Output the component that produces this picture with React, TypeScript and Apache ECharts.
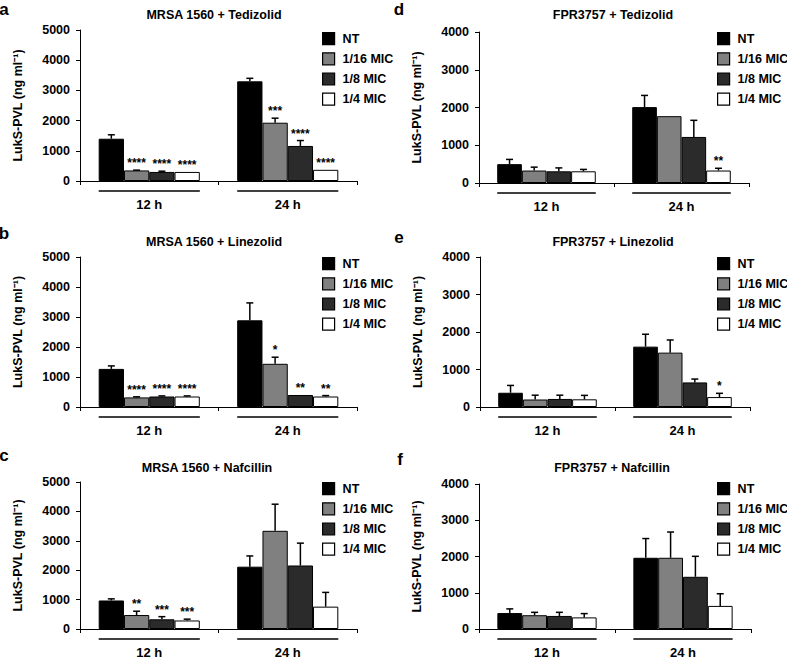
import React, { useEffect, useRef } from "react";
import * as echarts from "echarts";

const categories = ["12 h", "24 h"];
const groups = ["NT", "1/16 MIC", "1/8 MIC", "1/4 MIC"];
const titles = [
  "MRSA 1560 + Tedizolid",
  "MRSA 1560 + Linezolid",
  "MRSA 1560 + Nafcillin",
  "FPR3757 + Tedizolid",
  "FPR3757 + Linezolid",
  "FPR3757 + Nafcillin",
];
const panelLetters = ["a", "b", "c", "d", "e", "f"];
const yMax = [5000, 5000, 5000, 4000, 4000, 4000];
const yName = "LukS-PVL (ng ml⁻¹)";

// means per group [12 h, 24 h]
const aMean = [[1400, 3300], [350, 1930], [300, 1160], [300, 370]];
const aErr = [[130, 100], [10, 150], [25, 180], [0, 0]];
const aStars = [["", ""], ["****", "***"], ["****", "****"], ["****", "****"]];

const bMean = [[1270, 2890], [320, 1440], [350, 400], [350, 350]];
const bErr = [[100, 580], [20, 220], [20, 0], [20, 30]];
const bStars = [["", ""], ["****", "*"], ["****", "**"], ["****", "**"]];

const cMean = [[970, 2120], [475, 3340], [330, 2160], [290, 760]];
const cErr = [[55, 365], [130, 905], [90, 760], [45, 485]];
const cStars = [["", ""], ["**", ""], ["***", ""], ["***", ""]];

const dMean = [[500, 2010], [330, 1770], [310, 1220], [310, 330]];
const dErr = [[125, 310], [90, 0], [90, 440], [50, 60]];
const dStars = [["", ""], ["", ""], ["", ""], ["", "**"]];

const eMean = [[380, 1610], [200, 1450], [215, 655], [205, 265]];
const eErr = [[195, 330], [115, 337], [100, 90], [105, 100]];
const eStars = [["", ""], ["", ""], ["", ""], ["", "*"]];

const fMean = [[440, 1965], [380, 1965], [360, 1440], [320, 637]];
const fErr = [[115, 530], [80, 710], [100, 565], [105, 335]];
const fStars = [["", ""], ["", ""], ["", ""], ["", ""]];

const means = [aMean, bMean, cMean, dMean, eMean, fMean];
const errs = [aErr, bErr, cErr, dErr, eErr, fErr];
const stars = [aStars, bStars, cStars, dStars, eStars, fStars];

const FONT = '"Liberation Sans", Arial, sans-serif';
const colors = ["#000000", "#808080", "#2b2b2b", "#ffffff"];
const GAP = 0.27;

const layout = [
  { left: 80, top: 30, width: 277, height: 151, lx: 317, ly: 27, tx: 214, ty: 15, px: 4, py: 9 },
  { left: 80, top: 257, width: 277, height: 150, lx: 317, ly: 252, tx: 214, ty: 242, px: 4, py: 233 },
  { left: 80, top: 482, width: 277, height: 151, lx: 317, ly: 477, tx: 207, ty: 468, px: 4, py: 455 },
  { left: 479, top: 32, width: 270, height: 151, lx: 712, ly: 27, tx: 613, ty: 15, px: 399, py: 9 },
  { left: 480, top: 257, width: 270, height: 150, lx: 712, ly: 252, tx: 613, ty: 242, px: 399, py: 237 },
  { left: 479, top: 484, width: 272, height: 151, lx: 712, ly: 477, tx: 612, ty: 468, px: 400, py: 459 },
];

function buildOption() {
  const grid: any[] = [];
  const xAxis: any[] = [];
  const yAxis: any[] = [];
  const legend: any[] = [];
  const series: any[] = [];
  const graphic: any[] = [];

  layout.forEach((L, p) => {
    grid.push({ left: L.left, top: L.top, width: L.width, height: L.height });
    xAxis.push({
      type: "category",
      gridIndex: p,
      data: categories,
      axisLine: { lineStyle: { color: "#000", width: 1 } },
      axisTick: { show: true, length: 4, lineStyle: { color: "#000" } },
      axisLabel: { color: "#000", fontWeight: "bold", fontSize: 13, fontFamily: FONT, margin: 17 },
    });
    yAxis.push({
      type: "value",
      gridIndex: p,
      min: 0,
      max: yMax[p],
      interval: 1000,
      name: yName,
      nameLocation: "middle",
      nameGap: 56,
      nameTextStyle: { color: "#000", fontWeight: "bold", fontSize: 12.5, fontFamily: FONT },
      axisLine: { show: true, lineStyle: { color: "#000", width: 1 } },
      axisTick: { show: true, length: 4, lineStyle: { color: "#000" } },
      axisLabel: {
        color: "#000",
        fontWeight: "bold",
        fontSize: 12.5,
        fontFamily: FONT,
        margin: 10,
        formatter: (v: number) => String(v),
      },
      splitLine: { show: false },
    });
    legend.push({
      left: L.lx,
      top: L.ly,
      orient: "vertical",
      icon: "rect",
      itemWidth: 12,
      itemHeight: 12,
      itemGap: 7,
      data: groups,
      itemStyle: { borderColor: "#000", borderWidth: 1.2 },
      textStyle: { color: "#000", fontWeight: "bold", fontSize: 12.5, fontFamily: FONT, padding: [0, 0, 0, 3] },
      selectedMode: false,
    });
    groups.forEach((g, gi) => {
      series.push({
        type: "bar",
        name: g,
        xAxisIndex: p,
        yAxisIndex: p,
        data: means[p][gi],
        barGap: "0%",
        barCategoryGap: GAP * 100 + "%",
        itemStyle: { color: colors[gi], borderColor: "#000", borderWidth: 1 },
        z: 2,
      });
    });
    const errData: any[] = [];
    const starText: string[] = [];
    groups.forEach((g, gi) => {
      categories.forEach((c, ci) => {
        errData.push([ci, gi, means[p][gi][ci], errs[p][gi][ci]]);
        starText.push(stars[p][gi][ci]);
      });
    });
    series.push({
      type: "custom",
      name: "error",
      xAxisIndex: p,
      yAxisIndex: p,
      data: errData,
      encode: { x: 0, y: 2 },
      z: 5,
      clip: false,
      renderItem: (params: any, api: any) => {
        const ci = api.value(0);
        const gi = api.value(1);
        const m = api.value(2);
        const e = api.value(3);
        const base = api.coord([ci, 0]);
        const band = api.size([1, 0])[0];
        const bw = (band * (1 - GAP)) / 4;
        const x = base[0] - 2 * bw + bw * (gi + 0.5);
        const yTop = api.coord([ci, m])[1];
        const yErr = api.coord([ci, m + e])[1];
        const children: any[] = [];
        if (e > 0) {
          children.push({
            type: "line",
            shape: { x1: x, y1: yTop, x2: x, y2: yErr },
            style: { stroke: "#000", lineWidth: 1.5 },
          });
          children.push({
            type: "line",
            shape: { x1: x - 3.5, y1: yErr, x2: x + 3.5, y2: yErr },
            style: { stroke: "#000", lineWidth: 1.5 },
          });
        }
        const s = starText[params.dataIndex];
        if (s) {
          children.push({
            type: "text",
            style: {
              text: s,
              x: x,
              y: yErr - 1,
              align: "center",
              verticalAlign: "bottom",
              fill: "#000",
              font: `bold 12px ${FONT}`,
            },
          });
        }
        return { type: "group", children };
      },
    });
    series.push({
      type: "custom",
      name: "group line",
      xAxisIndex: p,
      yAxisIndex: p,
      data: categories.map((c, ci) => [ci, 0]),
      encode: { x: 0, y: 1 },
      clip: false,
      z: 5,
      renderItem: (params: any, api: any) => {
        const ci = api.value(0);
        const base = api.coord([ci, 0]);
        const band = api.size([1, 0])[0];
        const half = (band * (1 - GAP)) / 2;
        return {
          type: "line",
          shape: { x1: base[0] - half, y1: base[1] + 10, x2: base[0] + half, y2: base[1] + 10 },
          style: { stroke: "#000", lineWidth: 1.5 },
        };
      },
    });
    graphic.push({
      type: "text",
      x: L.tx,
      y: L.ty,
      style: {
        text: titles[p],
        align: "center",
        verticalAlign: "middle",
        fill: "#000",
        font: `bold 12.5px ${FONT}`,
      },
    });
    graphic.push({
      type: "text",
      x: L.px,
      y: L.py,
      style: {
        text: panelLetters[p],
        align: "center",
        verticalAlign: "middle",
        fill: "#000",
        font: `bold 17px ${FONT}`,
      },
    });
  });

  return {
    animation: false,
    backgroundColor: "#ffffff",
    grid,
    xAxis,
    yAxis,
    legend,
    series,
    graphic,
  };
}

export default function App() {
  const ref = useRef<HTMLDivElement>(null);
  useEffect(() => {
    if (!ref.current) return;
    const chart = echarts.init(ref.current, undefined, { renderer: "svg" });
    chart.setOption(buildOption() as any);
    return () => chart.dispose();
  }, []);
  return (
    <div
      ref={ref}
      style={{ position: "fixed", left: 0, top: 0, width: 787, height: 659, background: "#fff" }}
    />
  );
}
